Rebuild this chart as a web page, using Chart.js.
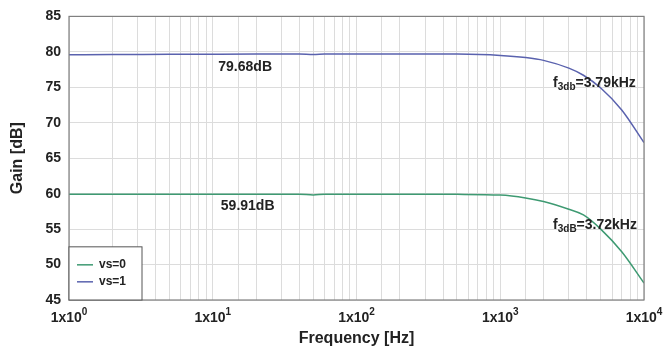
<!DOCTYPE html>
<html>
<head>
<meta charset="utf-8">
<script src="https://cdn.jsdelivr.net/npm/chart.js@4"></script>
<style>
  html, body { margin: 0; padding: 0; background: #fff; }
  #wrap { width: 667px; height: 352px; }
</style>
</head>
<body>
<div id="wrap"><canvas id="gainChart"></canvas></div>
<script>
  const freq = [1, 2, 5, 10, 20, 40, 50, 60, 100, 200, 500, 1000, 1500, 2000, 3000, 3790, 5000, 7000, 10000];
  const gainVs1 = [79.6, 79.62, 79.65, 79.67, 79.68, 79.68, 79.62, 79.68, 79.7, 79.7, 79.68, 79.5, 79.2, 78.8, 77.7, 76.7, 74.9, 71.8, 67.2];
  const gainVs0 = [59.9, 59.9, 59.9, 59.91, 59.91, 59.91, 59.82, 59.91, 59.92, 59.92, 59.9, 59.8, 59.4, 58.9, 57.8, 57.0, 55.0, 51.8, 47.4];
  const seriesLabels = ['vs=0', 'vs=1'];
  const xTickExps = [0, 1, 2, 3, 4];

  const pts = (ys) => freq.map((f, i) => ({ x: f, y: ys[i] }));
  const FAM = 'Liberation Sans, Arial, sans-serif';
  const tickFont = { family: FAM, size: 14, weight: 'bold' };

  // annotations, x tick labels, legend box and frame
  const extras = {
    id: 'extras',
    afterDraw(chart) {
      const c = chart.ctx, a = chart.chartArea;
      const xs = chart.scales.x, ys = chart.scales.y;
      c.save();
      c.strokeStyle = '#808080';
      c.lineWidth = 1.2;
      c.strokeRect(a.left, a.top, a.right - a.left, a.bottom - a.top);

      c.fillStyle = '#222';
      c.font = 'bold 14px ' + FAM;
      c.textAlign = 'center';
      c.textBaseline = 'middle';
      c.fillText('79.68dB', xs.getPixelForValue(16.8), ys.getPixelForValue(77.8));
      c.fillText('59.91dB', xs.getPixelForValue(17.5), ys.getPixelForValue(58.2));

      const sup = (x, y, pre, s, post, dy, center) => {
        c.textBaseline = 'alphabetic';
        c.textAlign = 'left';
        c.font = 'bold 14px ' + FAM;
        const w1 = c.measureText(pre).width;
        const w3 = c.measureText(post).width;
        c.font = 'bold 10px ' + FAM;
        const w2 = c.measureText(s).width;
        if (center) x -= (w1 + w2 + w3) / 2;
        c.font = 'bold 14px ' + FAM;
        c.fillText(pre, x, y);
        c.font = 'bold 10px ' + FAM;
        c.fillText(s, x + w1, y + dy);
        c.font = 'bold 14px ' + FAM;
        c.fillText(post, x + w1 + w2, y);
      };
      sup(xs.getPixelForValue(2330), ys.getPixelForValue(75.0), 'f', '3db', '=3.79kHz', 3, false);
      sup(xs.getPixelForValue(2330), ys.getPixelForValue(55.0), 'f', '3dB', '=3.72kHz', 3, false);

      // x tick labels with superscript exponent
      xTickExps.forEach(e => {
        sup(xs.getPixelForValue(Math.pow(10, e)), a.bottom + 22, '1x10', String(e), '', -7, true);
      });

      // legend
      const lx = a.left, ly = ys.getPixelForValue(52.5);
      c.fillStyle = '#fff';
      c.fillRect(lx, ly, 73, a.bottom - ly);
      c.strokeStyle = '#555';
      c.lineWidth = 1;
      c.strokeRect(lx, ly, 73, a.bottom - ly);
      c.font = 'bold 12px ' + FAM;
      c.textAlign = 'left';
      c.textBaseline = 'middle';
      chart.data.datasets.forEach((ds, i) => {
        const yy = ly + 18 + i * 17;
        c.strokeStyle = ds.borderColor;
        c.lineWidth = 1.5;
        c.beginPath();
        c.moveTo(lx + 8, yy);
        c.lineTo(lx + 24, yy);
        c.stroke();
        c.fillStyle = '#222';
        c.fillText(ds.label, lx + 30, yy);
      });
      c.restore();
    }
  };

  new Chart(document.getElementById('gainChart'), {
    type: 'line',
    data: {
      datasets: [
        { label: seriesLabels[0], data: pts(gainVs0), borderColor: '#3e9a72', borderWidth: 1.5, pointRadius: 0, cubicInterpolationMode: 'monotone' },
        { label: seriesLabels[1], data: pts(gainVs1), borderColor: '#5a62ae', borderWidth: 1.5, pointRadius: 0, cubicInterpolationMode: 'monotone' }
      ]
    },
    options: {
      responsive: true,
      maintainAspectRatio: false,
      animation: false,
      layout: { padding: { top: 15, right: 23, left: 0, bottom: 0 } },
      plugins: { legend: { display: false }, tooltip: { enabled: false } },
      scales: {
        x: {
          type: 'logarithmic',
          min: 1,
          max: 10000,
          afterFit(s) { s.height = 52; },
          grid: { color: '#dcdcdc', lineWidth: 1, drawTicks: false },
          border: { display: false },
          ticks: {
            autoSkip: false,
            maxRotation: 0,
            padding: 4,
            color: '#222',
            font: tickFont,
            callback() { return ''; }
          },
          title: { display: true, text: 'Frequency [Hz]', color: '#222', padding: { top: 0, bottom: 4 },
                   font: { family: FAM, size: 16, weight: 'bold' } }
        },
        y: {
          min: 45,
          max: 85,
          afterFit(s) { s.width = 69; },
          grid: { color: '#dcdcdc', lineWidth: 1, drawTicks: false },
          border: { display: false },
          ticks: { stepSize: 5, padding: 8, color: '#222', font: tickFont },
          title: { display: true, text: 'Gain [dB]', color: '#222', padding: { top: 8, bottom: 0 },
                   font: { family: FAM, size: 16, weight: 'bold' } }
        }
      }
    },
    plugins: [extras]
  });
</script>
</body>
</html>
